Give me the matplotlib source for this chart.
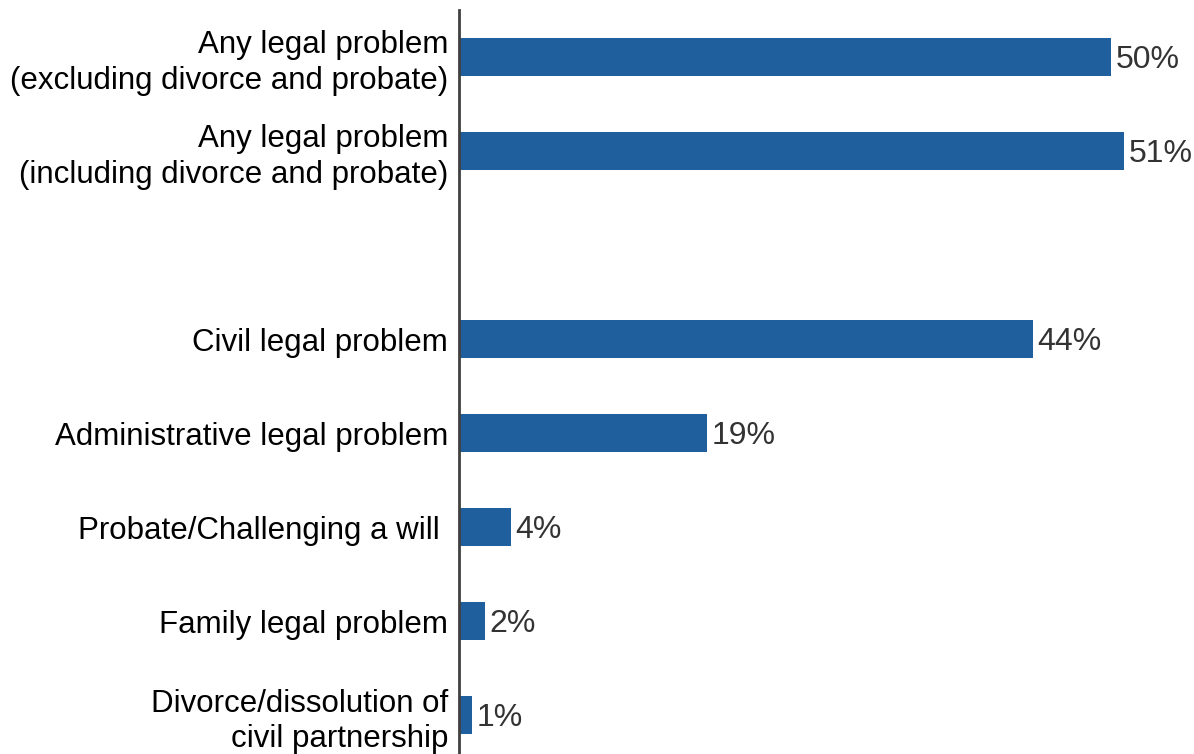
import matplotlib.pyplot as plt

plt.rcParams['font.family'] = ['Liberation Sans', 'DejaVu Sans']

# data
labels = ['Any legal problem\n(excluding divorce and probate)',
          'Any legal problem\n(including divorce and probate)',
          'Civil legal problem',
          'Administrative legal problem',
          'Probate/Challenging a will ',
          'Family legal problem',
          'Divorce/dissolution of\ncivil partnership']
values = [50, 51, 44, 19, 4, 2, 1]
slots = [0, 1, 3, 4, 5, 6, 7]   # empty slot after the two "any" bars

bar_color = '#1F5F9E'

fig = plt.figure(figsize=(11.94, 7.54), dpi=100)
ax = fig.add_axes([459 / 1194, 1 - 762 / 754, 717 / 1194, 752 / 754])

ax.barh(slots, values, height=0.4, color=bar_color)
ax.set_xlim(0, 55)
ax.set_ylim(7.5, -0.5)

ax.set_yticks(slots)
ax.set_yticklabels(labels, fontsize=22.5, color='black', linespacing=1.25)
ax.tick_params(axis='y', length=0, pad=8)
ax.set_xticks([])

for s in ['top', 'right', 'bottom']:
    ax.spines[s].set_visible(False)
ax.spines['left'].set_color('#404040')
ax.spines['left'].set_linewidth(2)

for y, v in zip(slots, values):
    ax.text(v + 0.35, y, f'{v}%', va='center_baseline', ha='left', fontsize=23, color='#333333')

fig.savefig('out.png', dpi=100)
